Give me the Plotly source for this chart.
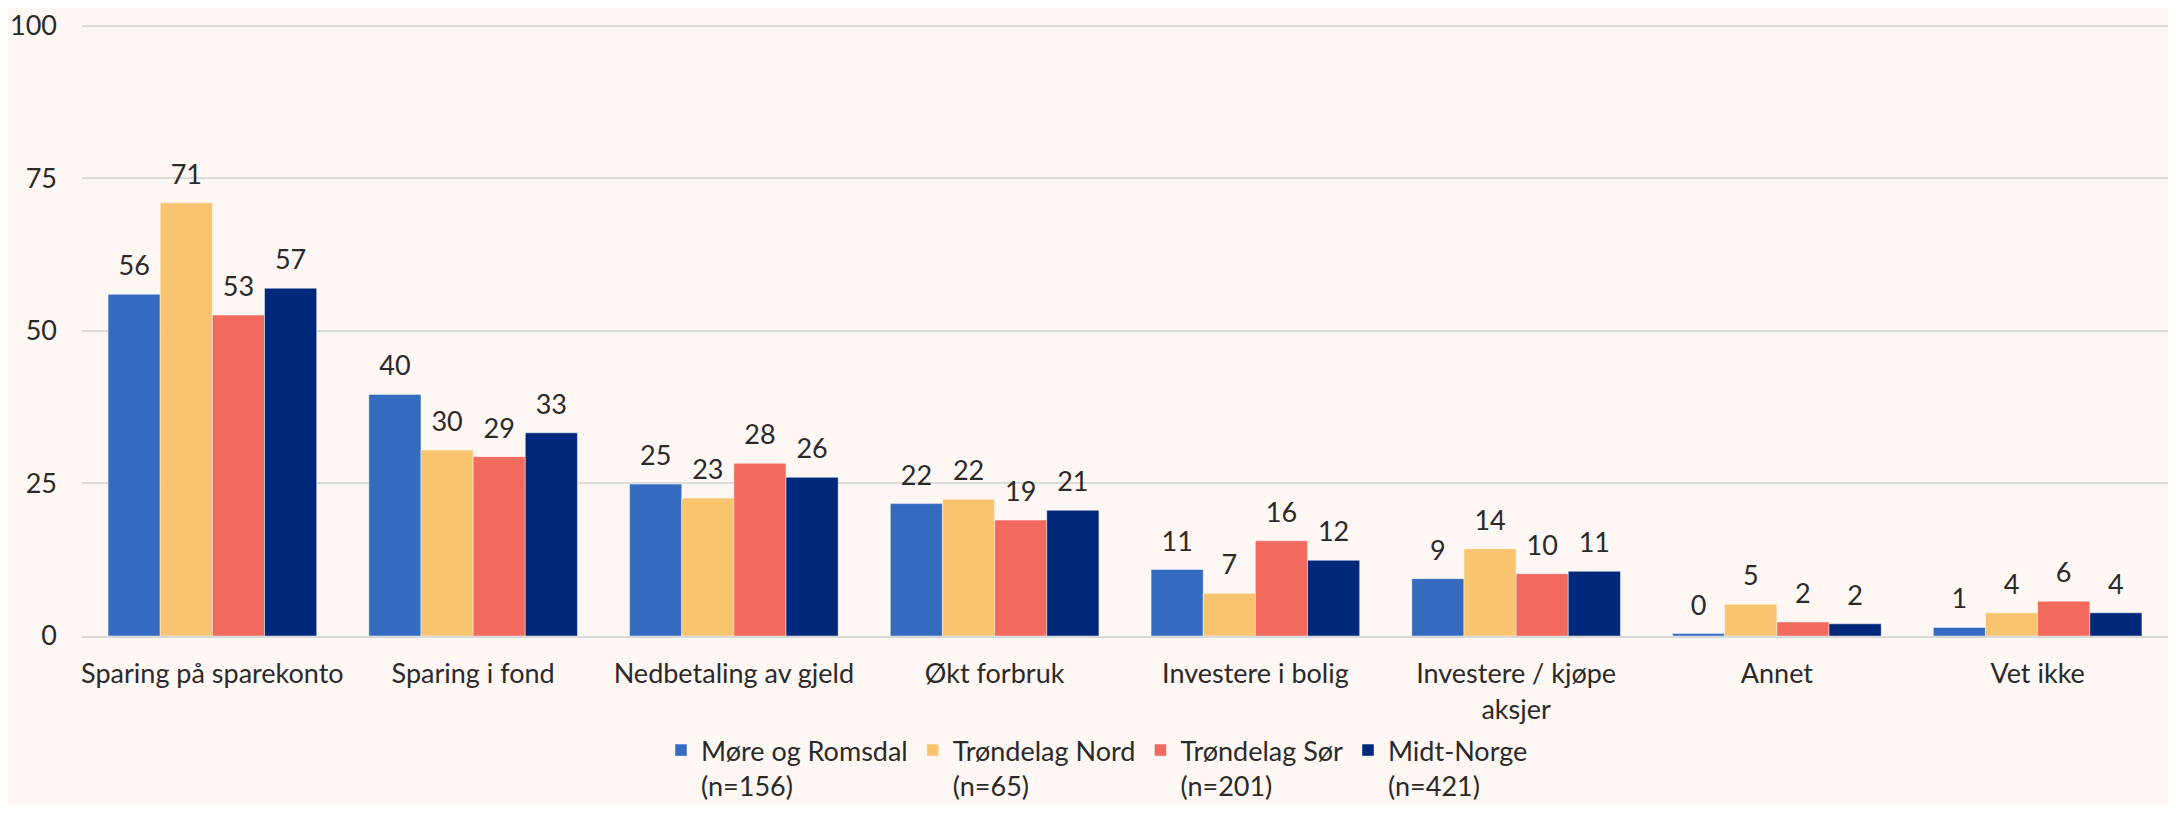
import plotly.graph_objects as go

categories = ["Sparing på sparekonto", "Sparing i fond", "Nedbetaling av gjeld", "Økt forbruk",
              "Investere i bolig", "Investere / kjøpe<br>aksjer", "Annet", "Vet ikke"]

series_names = ["Møre og Romsdal<br>(n=156)", "Trøndelag Nord<br>(n=65)",
                "Trøndelag Sør<br>(n=201)", "Midt-Norge<br>(n=421)"]

more_romsdal = [56.0, 39.6, 24.9, 21.7, 10.9, 9.4, 0.4, 1.4]
trondelag_nord = [71.0, 30.5, 22.6, 22.4, 7.0, 14.3, 5.2, 3.8]
trondelag_sor = [52.6, 29.4, 28.3, 19.0, 15.6, 10.2, 2.3, 5.7]
midt_norge = [57.0, 33.3, 26.0, 20.6, 12.4, 10.6, 2.0, 3.8]

y_ticks = [0, 25, 50, 75, 100]

colors = ["#346BBF", "#F9C470", "#F2695D", "#00287A"]
FONT = "Lato"
TXT = "#2A2A2A"
FS = 27

# page body has an 8px default margin; figure sized to fit inside the window
W, H = 2160, 797
OFF = 8
Y_TOP = 100.8  # small headroom so the 100 gridline is inside the plot
PX_PER_UNIT = (636 - 21) / 100.0
top_margin = int(round((21 - OFF) - (Y_TOP - 100) * PX_PER_UNIT))

fig = go.Figure()
all_vals = [more_romsdal, trondelag_nord, trondelag_sor, midt_norge]
for name, vals, col in zip(series_names, all_vals, colors):
    fig.add_trace(go.Bar(
        x=categories, y=vals, name=name,
        marker=dict(color=col, line=dict(color="rgba(255,255,255,0.45)", width=1)),
        offsetgroup=name, alignmentgroup="bars",
        hoverinfo="skip",
    ))
for name, vals in zip(series_names, all_vals):
    fig.add_trace(go.Scatter(
        x=categories, y=vals, mode="markers+text",
        text=[f"{v:.0f}" for v in vals], textposition="top center",
        textfont=dict(family=FONT, size=FS, color=TXT),
        marker=dict(size=18, color="rgba(0,0,0,0)"),
        offsetgroup=name, alignmentgroup="txt",
        showlegend=False, hoverinfo="skip", cliponaxis=False,
    ))

fig.update_layout(
    width=W, height=H,
    barmode="group", bargap=0.2, bargroupgap=0,
    scattermode="group", scattergap=0.2,
    paper_bgcolor="#FFF7F4", plot_bgcolor="#FFF7F4",
    margin=dict(l=82 - OFF, r=0, t=top_margin, b=H - (636 - OFF)),
    font=dict(family=FONT, size=FS, color=TXT),
    legend=dict(orientation="h", xref="container", yref="container",
                x=(1097 - OFF) / W, xanchor="center", y=1 - (726 - OFF) / H, yanchor="top",
                valign="top", font=dict(family=FONT, size=FS, color=TXT),
                traceorder="normal", itemwidth=30),
    showlegend=True,
)
fig.update_xaxes(showgrid=False, showline=True, linecolor="#D9D9D9", linewidth=2,
                 ticks="", ticklabelstandoff=13,
                 tickfont=dict(family=FONT, size=FS, color=TXT))
fig.update_yaxes(range=[0, Y_TOP], tickvals=y_ticks, showgrid=True, gridcolor="#DCDCDC",
                 gridwidth=2, zeroline=False, ticks="", ticklabelstandoff=24,
                 ticklabeloverflow="allow",
                 tickfont=dict(family=FONT, size=FS, color=TXT))

fig.write_html("out.html")
